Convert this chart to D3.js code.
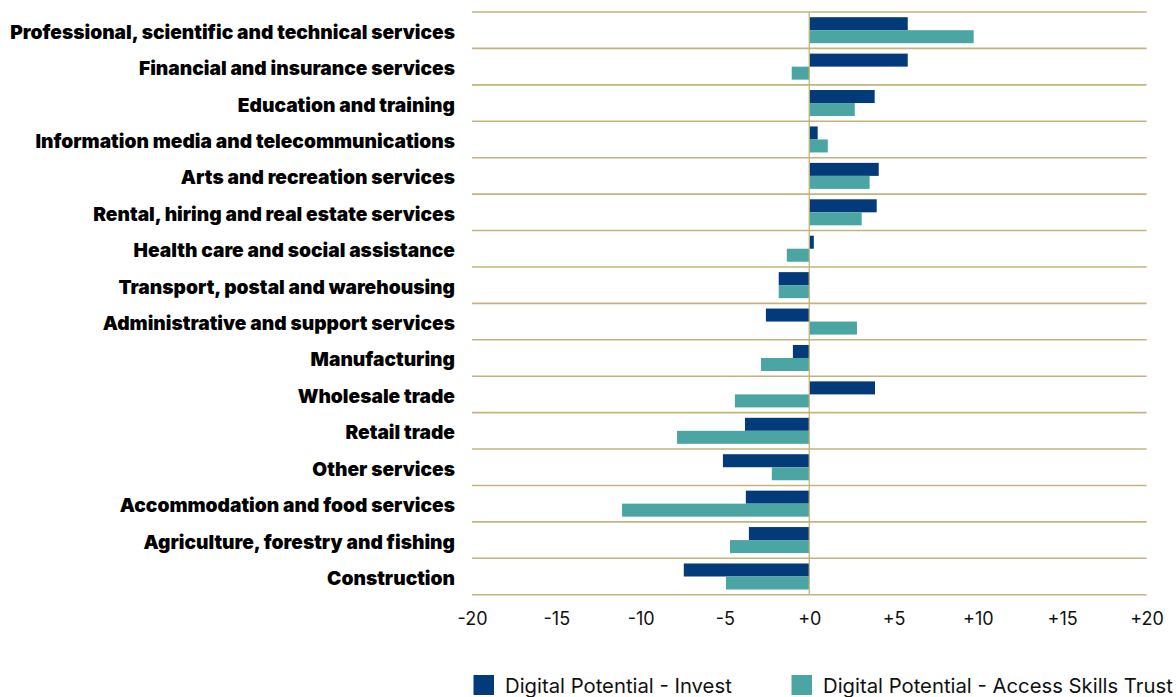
<!DOCTYPE html>
<html>
<head>
<meta charset="utf-8">
<script src="https://cdn.jsdelivr.net/npm/d3@7"></script>
<style>
  body { margin: 0; background: #fff; }
  svg { display: block; }
</style>
</head>
<body>
<div id="chart"></div>
<script>
// industries, top to bottom
const categories = [
  "Professional, scientific and technical services",
  "Financial and insurance services",
  "Education and training",
  "Information media and telecommunications",
  "Arts and recreation services",
  "Rental, hiring and real estate services",
  "Health care and social assistance",
  "Transport, postal and warehousing",
  "Administrative and support services",
  "Manufacturing",
  "Wholesale trade",
  "Retail trade",
  "Other services",
  "Accommodation and food services",
  "Agriculture, forestry and fishing",
  "Construction"
];

const seriesNames = ["Digital Potential - Invest", "Digital Potential - Access Skills Trust"];

const investValues = [5.84, 5.84, 3.88, 0.5, 4.12, 4.0, 0.27, -1.81, -2.57, -0.97, 3.9, -3.81, -5.12, -3.76, -3.58, -7.44];
const accessValues = [9.75, -1.04, 2.7, 1.1, 3.58, 3.11, -1.33, -1.81, 2.83, -2.86, -4.41, -7.84, -2.22, -11.1, -4.7, -4.94];

const tickValues = [-20, -15, -10, -5, 0, 5, 10, 15, 20];

const colors = ["#023a7a", "#4ba6a3"];
const gridColor = "#c2b47c";

const width = 1176, height = 697;

const svg = d3.select("#chart").append("svg")
  .attr("width", width)
  .attr("height", height);

const x = d3.scaleLinear().domain([-20, 20]).range([472, 1146.5]);

const y = d3.scaleBand().domain(categories).range([12, 594.7]).padding(0);

const ySub = d3.scaleBand().domain(seriesNames).range([0, y.step()])
  .paddingInner(0).paddingOuter(0.4);

const rows = categories.map((c, i) => ({
  cat: c,
  vals: [investValues[i], accessValues[i]]
}));

// horizontal grid lines (row separators)
const gridYs = categories.map(c => y(c)).concat([y.range()[1]]);
svg.append("g").selectAll("line")
  .data(gridYs)
  .enter().append("line")
  .attr("x1", x(-20)).attr("x2", x(20))
  .attr("y1", d => d).attr("y2", d => d)
  .attr("stroke", gridColor)
  .attr("stroke-width", 1.6);

// bars
const groups = svg.append("g").selectAll("g")
  .data(rows)
  .enter().append("g")
  .attr("transform", d => `translate(0,${y(d.cat)})`);

groups.selectAll("rect")
  .data(d => d.vals.map((v, j) => ({ v: v, s: seriesNames[j], j: j })))
  .enter().append("rect")
  .attr("x", d => x(Math.min(0, d.v)))
  .attr("width", d => Math.abs(x(d.v) - x(0)))
  .attr("y", d => ySub(d.s))
  .attr("height", ySub.bandwidth())
  .attr("fill", d => colors[d.j]);

// zero line
svg.append("line")
  .attr("x1", x(0)).attr("x2", x(0))
  .attr("y1", y.range()[0]).attr("y2", y.range()[1])
  .attr("stroke", gridColor)
  .attr("stroke-width", 1.3);

// category labels
svg.append("g").selectAll("text")
  .data(categories)
  .enter().append("text")
  .attr("x", 455)
  .attr("y", d => y(d) + y.step() / 2 + 8.5)
  .attr("text-anchor", "end")
  .style("font-family", "Inter, 'Noto Sans', sans-serif")
  .style("font-weight", 900)
  .style("font-size", "19.2px")
  .style("letter-spacing", "0px")
  .style("fill", "#000")
  .text(d => d);

// x axis labels
const xAxis = d3.axisBottom(x)
  .tickValues(tickValues)
  .tickSize(0)
  .tickPadding(0)
  .tickFormat(d => d > 0 || d === 0 ? "+" + d : String(d));

const ax = svg.append("g")
  .attr("transform", "translate(0,612)")
  .call(xAxis);
ax.select(".domain").remove();
ax.selectAll("text")
  .style("font-family", "Inter, 'Noto Sans', sans-serif")
  .style("font-size", "18px")
  .style("fill", "#111");

// legend
const legendX = [473.5, 791.5];
const legend = svg.append("g").selectAll("g")
  .data(seriesNames)
  .enter().append("g")
  .attr("transform", (d, i) => `translate(${legendX[i]},675)`);

legend.append("rect")
  .attr("width", 20.5).attr("height", 20)
  .attr("fill", (d, i) => colors[i]);

legend.append("text")
  .attr("x", 31.5)
  .attr("y", 17.5)
  .style("font-family", "Inter, 'Noto Sans', sans-serif")
  .style("font-size", "20.3px")
  .style("fill", "#111")
  .text(d => d);
</script>
</body>
</html>
